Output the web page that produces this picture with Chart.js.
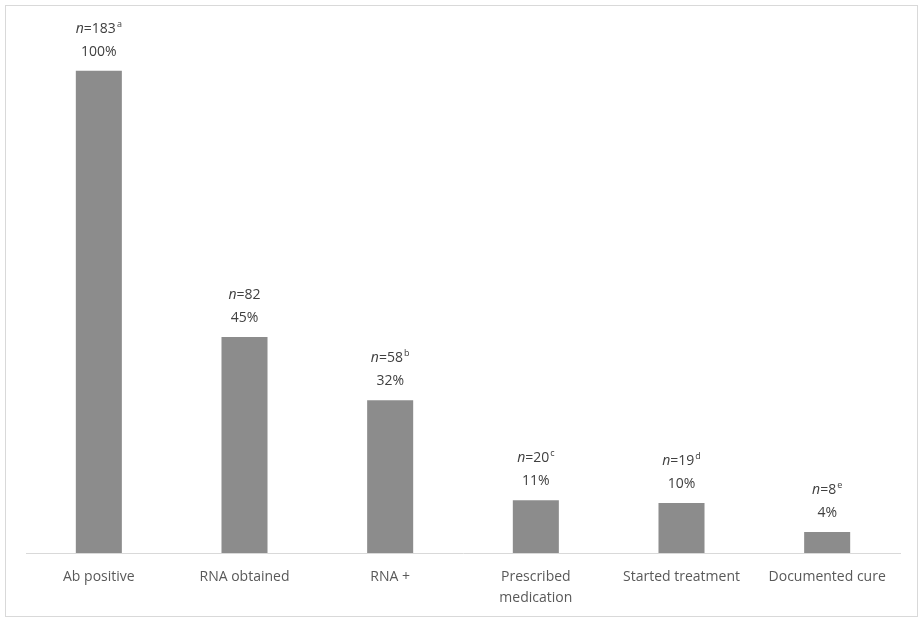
<!DOCTYPE html>
<html>
<head>
<meta charset="utf-8">
<script src="https://cdn.jsdelivr.net/npm/chart.js@4"></script>
<style>
    body { margin: 0; background: #ffffff; }
    #frame {
        position: absolute;
        left: 5px;
        top: 5px;
        width: 911px;
        height: 610px;
        border: 1px solid #d9d9d9;
    }
    #wrap {
        position: absolute;
        left: 0;
        top: 0;
        width: 924px;
        height: 623px;
    }
</style>
</head>
<body>
<div id="frame"></div>
<div id="wrap"><canvas id="myChart"></canvas></div>
<script>
const categories = ["Ab positive", "RNA obtained", "RNA +", ["Prescribed", "medication"], "Started treatment", "Documented cure"];
const counts = [183, 82, 58, 20, 19, 8];
const percents = ["100%", "45%", "32%", "11%", "10%", "4%"];
const notes = ["a", "", "b", "c", "d", "e"];

const labelFont = "Open Sans";

// draws "n=183a" and "100%" above each bar
const barLabels = {
    id: "barLabels",
    afterDatasetsDraw(chart) {
        const ctx = chart.ctx;
        const meta = chart.getDatasetMeta(0);
        ctx.save();
        ctx.fillStyle = "#404040";
        ctx.textBaseline = "alphabetic";
        ctx.textAlign = "left";
        for (let i = 0; i < meta.data.length; i++) {
            const bar = meta.data[i];
            const x = bar.x;
            const top = bar.y;

            // first line: italic n, =count, superscript note
            const italic = "italic 14px " + labelFont;
            const normal = "14px " + labelFont;
            const small = "9px " + labelFont;
            ctx.font = italic;
            const w1 = ctx.measureText("n").width;
            ctx.font = normal;
            const w2 = ctx.measureText("=" + counts[i]).width;
            ctx.font = small;
            const w3 = notes[i] ? ctx.measureText(notes[i]).width + 1 : 0;
            let start = x - (w1 + w2 + w3) / 2;
            const y1 = top - 38;
            ctx.font = italic;
            ctx.fillText("n", start, y1);
            ctx.font = normal;
            ctx.fillText("=" + counts[i], start + w1, y1);
            if (notes[i]) {
                ctx.font = small;
                ctx.fillText(notes[i], start + w1 + w2 + 1, y1 - 6);
            }

            // second line: percent
            ctx.font = normal;
            ctx.textAlign = "center";
            ctx.fillText(percents[i], x, top - 15);
            ctx.textAlign = "left";
        }
        ctx.restore();
    }
};

const data = {
    labels: categories,
    datasets: [
        {
            data: counts,
            backgroundColor: "#8c8c8c",
            borderWidth: 0,
            barPercentage: 1,
            categoryPercentage: 0.316,
        },
    ],
};

const config = {
    type: "bar",
    data: data,
    options: {
        responsive: true,
        maintainAspectRatio: false,
        animation: false,
        layout: {
            padding: { left: 26, right: 24, top: 26, bottom: 0 },
        },
        plugins: {
            legend: { display: false },
            tooltip: { enabled: false },
        },
        scales: {
            x: {
                grid: { display: false, drawTicks: false },
                border: { display: true, color: "#d9d9d9", width: 1 },
                ticks: {
                    color: "#595959",
                    padding: 14,
                    maxRotation: 0,
                    autoSkip: false,
                    font: { family: labelFont, size: 14, lineHeight: 1.5 },
                },
            },
            y: {
                display: false,
                min: 0,
                max: 200,
            },
        },
    },
    plugins: [barLabels],
};

const myChart = new Chart(document.getElementById("myChart"), config);
</script>
</body>
</html>
